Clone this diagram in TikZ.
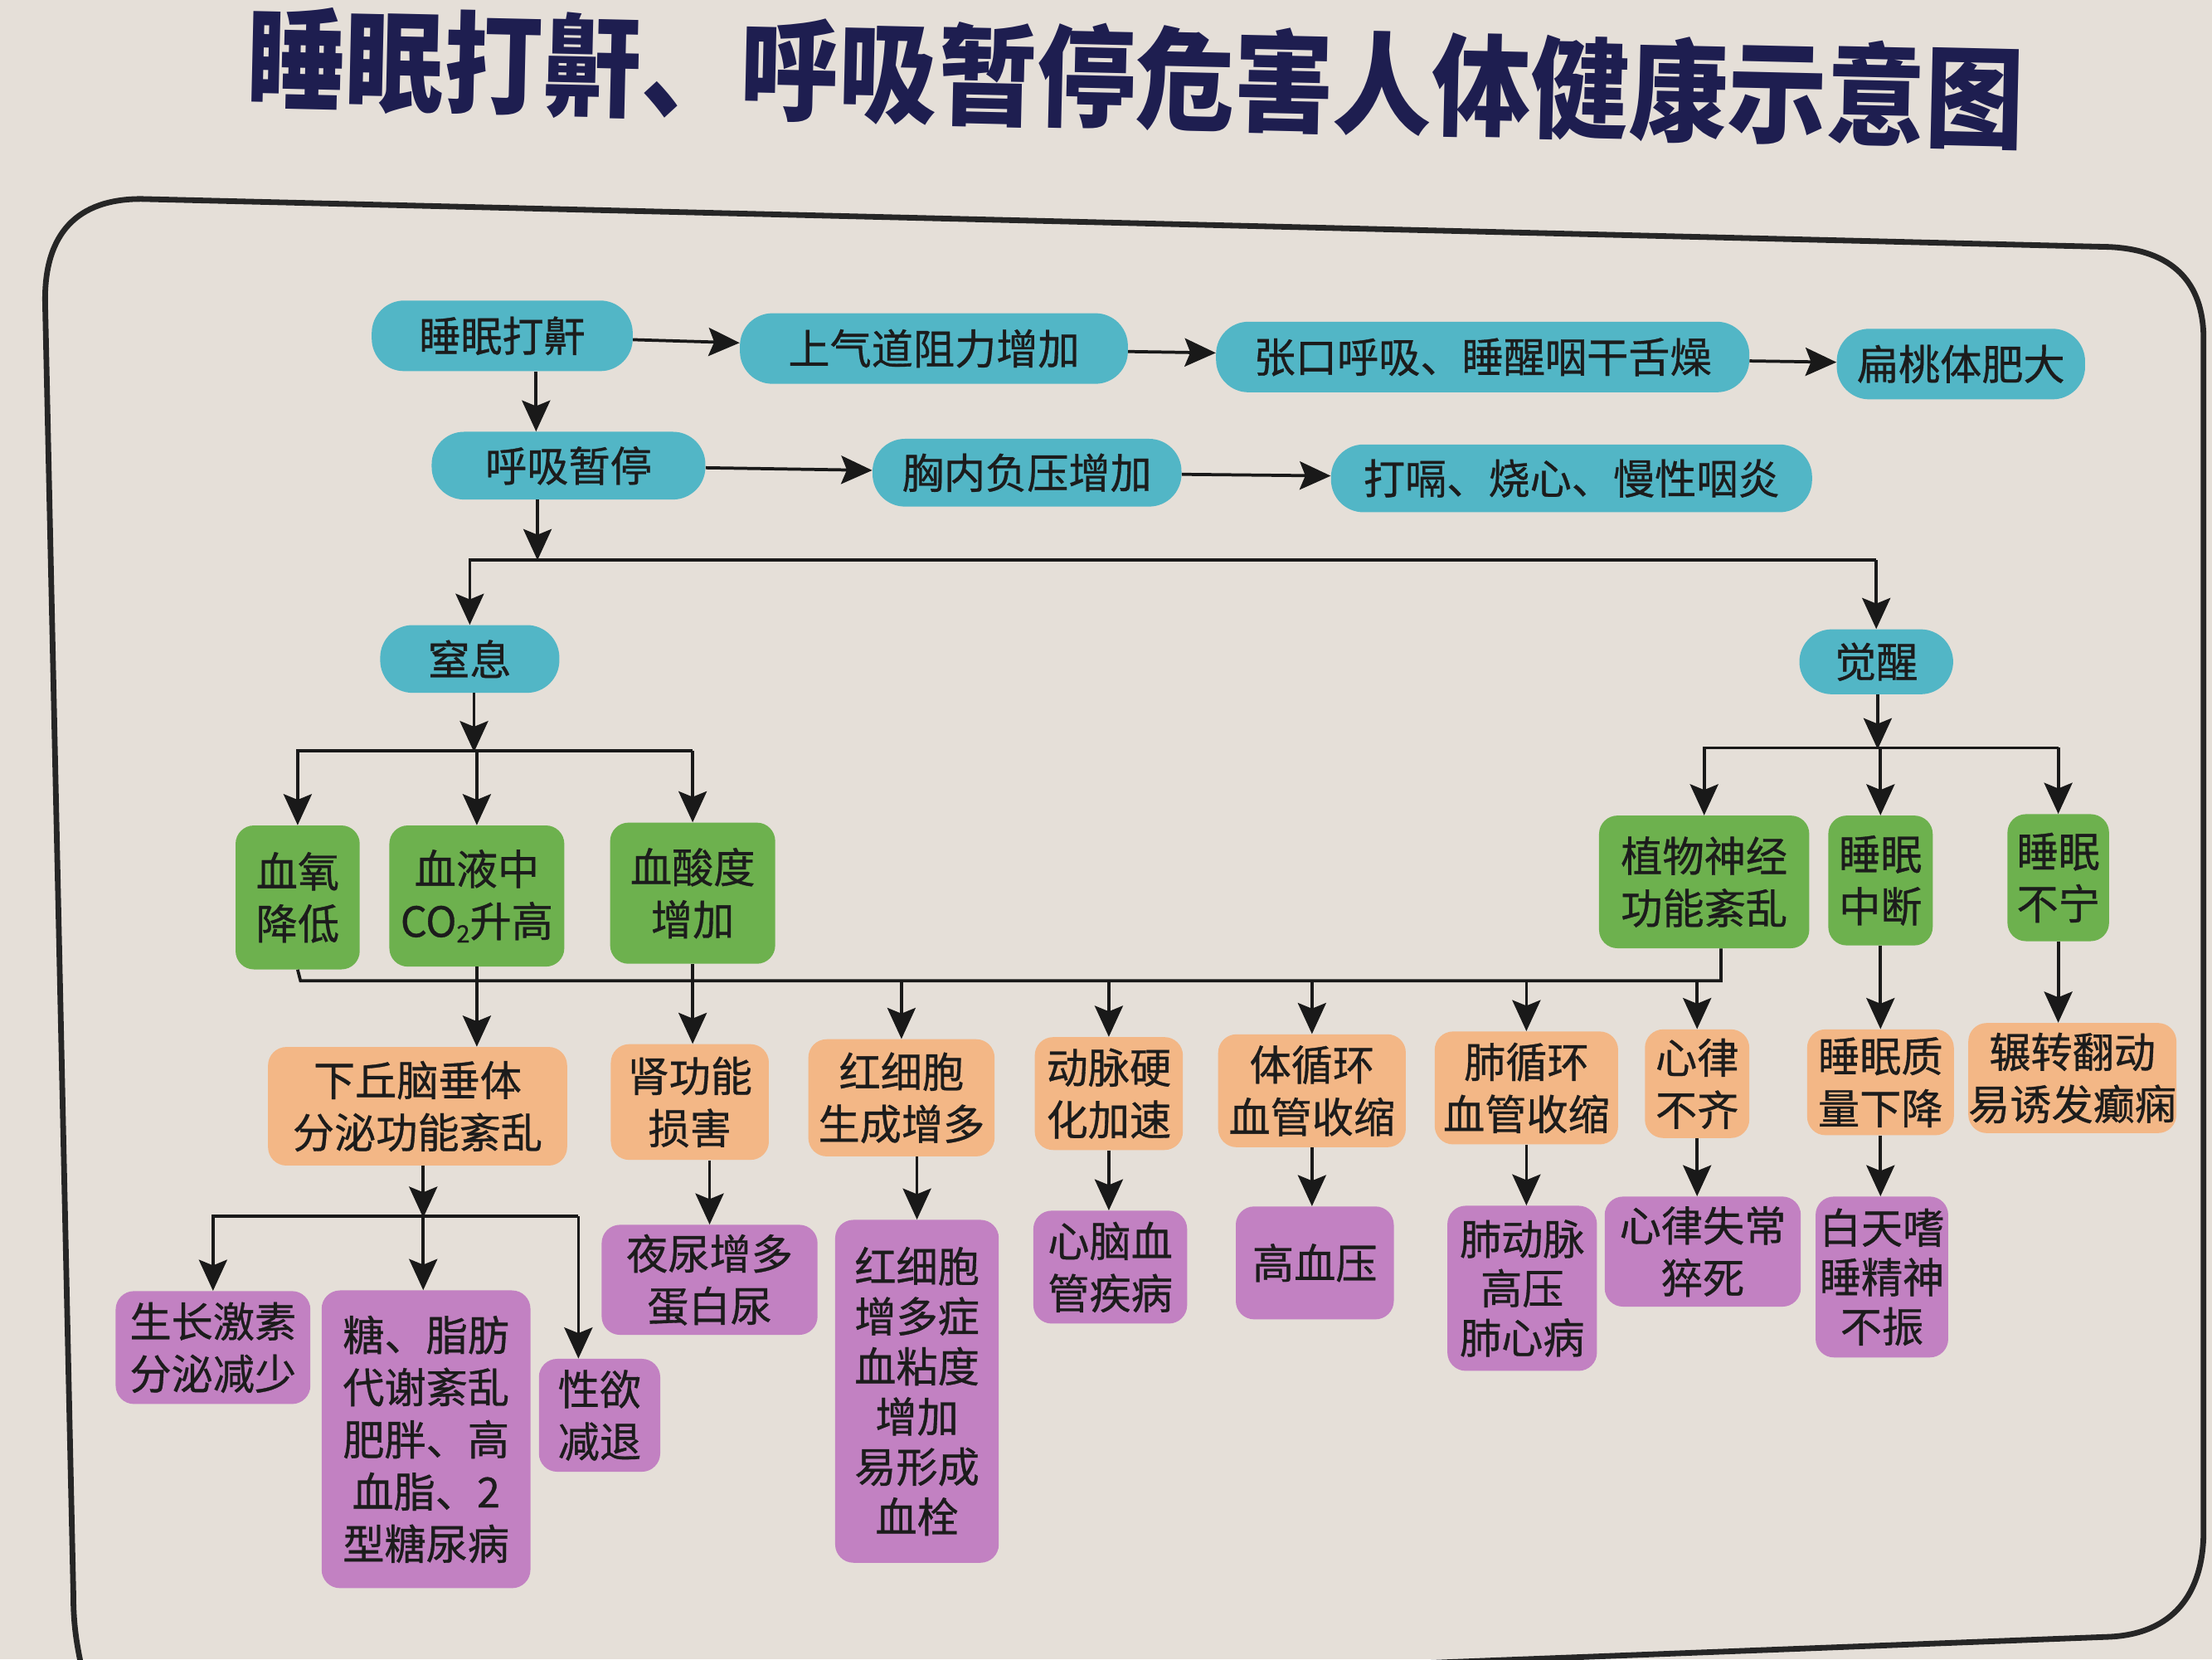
\documentclass[tikz,border=0pt]{standalone}
\usepackage{fontspec}
\setmainfont{Noto Sans CJK SC}
\newfontfamily\boxfont{Noto Sans CJK SC}[FakeBold=0.7]
\usetikzlibrary{arrows.meta,calc}
\definecolor{bgc}{HTML}{E5DFD8}
\definecolor{tealc}{HTML}{52B6C6}
\definecolor{greenc}{HTML}{6DB14E}
\definecolor{orangec}{HTML}{F3B786}
\definecolor{purplec}{HTML}{C281C2}
\definecolor{titlec}{HTML}{1E1E50}
\definecolor{txt}{HTML}{1C1C1C}
\tikzset{
  box/.style={inner sep=0pt, align=center, text=txt,
    font=\boxfont\fontsize{29.5}{37}\selectfont},
  tealbox/.style={box, fill=tealc, rounded corners=23pt},
  greenbox/.style={box, fill=greenc, rounded corners=13pt},
  orangebox/.style={box, fill=orangec, rounded corners=13pt},
  purplebox/.style={box, fill=purplec, rounded corners=13pt},
  arr/.style={line width=2.2pt, draw=black!90,
    -{Stealth[length=22pt,width=20pt,inset=4pt]}},
  conn/.style={line width=2.2pt, draw=black!90},
}
\begin{document}
\begin{tikzpicture}[x=1pt,y=-1pt]
\fill[bgc] (0,0) rectangle (1568,1176);
\useasboundingbox (0,0) rectangle (1568,1176);
% title
\node[font=\fontsize{70}{70}\selectfont\bfseries, text=titlec, rotate=-1.3, yscale=1.12]
  (title) at (805,55) {睡眠打鼾、呼吸暂停危害人体健康示意图};
% frame
\draw[line width=4pt, black!85]
  (62,1200) .. controls (55,1170) and (52,1155) .. (52,1130)
  -- (32,215) .. controls (31,165) and (55,141) .. (100,141)
  -- (1495,175) .. controls (1540,177) and (1562,200) .. (1562,240)
  -- (1562,1085) .. controls (1562,1130) and (1540,1158) .. (1495,1160)
  -- (60,1215);

% row 1
\node[tealbox, minimum width=185pt, minimum height=50pt] (snore) at (356,238) {睡眠打鼾};
\node[tealbox, minimum width=275pt, minimum height=50pt] (upper) at (662,247) {上气道阻力增加};
\node[tealbox, minimum width=378pt, minimum height=50pt] (mouth) at (1051,253) {张口呼吸、睡醒咽干舌燥};
\node[tealbox, minimum width=176pt, minimum height=50pt] (tonsil) at (1390,258) {扁桃体肥大};
% row 2
\node[tealbox, minimum width=194pt, minimum height=48pt] (apnea) at (403,330) {呼吸暂停};
\node[tealbox, minimum width=219pt, minimum height=48pt] (chest) at (728,335) {胸内负压增加};
\node[tealbox, minimum width=341pt, minimum height=48pt] (hic) at (1114,339) {打嗝、烧心、慢性咽炎};
% row 3
\node[tealbox, minimum width=127pt, minimum height=48pt] (choke) at (333,467) {窒息};
\node[tealbox, minimum width=109pt, minimum height=46pt] (wake) at (1330,469) {觉醒};
% row 4
\node[greenbox, minimum width=88pt, minimum height=102pt] (o2) at (211,636) {血氧\\降低};
\node[greenbox, minimum width=124pt, minimum height=100pt] (co2) at (338,635) {血液中\\CO\raisebox{-4pt}{\fontsize{17}{17}\selectfont 2}升高};
\node[greenbox, minimum width=117pt, minimum height=100pt] (acid) at (491,633) {血酸度\\增加};
\node[greenbox, minimum width=149pt, minimum height=94pt] (veg) at (1208,625) {植物神经\\功能紊乱};
\node[greenbox, minimum width=74pt, minimum height=92pt] (intr) at (1333,624) {睡眠\\中断};
\node[greenbox, minimum width=72pt, minimum height=90pt] (rest) at (1459,622) {睡眠\\不宁};
% row 5
\node[orangebox, minimum width=212pt, minimum height=84pt] (hypo) at (296,784) {下丘脑垂体\\分泌功能紊乱};
\node[orangebox, minimum width=112pt, minimum height=82pt] (kid) at (489,781) {肾功能\\损害};
\node[orangebox, minimum width=132pt, minimum height=83pt] (rbc) at (639,778) {红细胞\\生成增多};
\node[orangebox, minimum width=105pt, minimum height=80pt] (art) at (786,775) {动脉硬\\化加速};
\node[orangebox, minimum width=133pt, minimum height=80pt] (sys) at (930,773) {体循环\\血管收缩};
\node[orangebox, minimum width=130pt, minimum height=80pt] (pul) at (1082,771) {肺循环\\血管收缩};
\node[orangebox, minimum width=74pt, minimum height=77pt] (arh) at (1203,768) {心律\\不齐};
\node[orangebox, minimum width=104pt, minimum height=75pt] (sq) at (1333,767) {睡眠质\\量下降};
\node[orangebox, minimum width=147pt, minimum height=78pt] (epi) at (1469,764) {辗转翻动\\易诱发癫痫};
% row 6
\node[purplebox, minimum width=138pt, minimum height=80pt] (gh) at (151,955) {生长激素\\分泌减少};
\node[purplebox, minimum width=148pt, minimum height=211pt] (meta) at (302,1020) {糖、脂肪\\代谢紊乱\\肥胖、高\\血脂、2\\型糖尿病};
\node[purplebox, minimum width=86pt, minimum height=80pt] (lib) at (425,1003) {性欲\\减退};
\node[purplebox, minimum width=153pt, minimum height=78pt] (noct) at (503,907) {夜尿增多\\蛋白尿};
\node[purplebox, minimum width=116pt, minimum height=243pt, font=\boxfont\fontsize{29.5}{35.5}\selectfont] (poly) at (650,986) {红细胞\\增多症\\血粘度\\增加\\易形成\\血栓};
\node[purplebox, minimum width=109pt, minimum height=80pt] (cvd) at (787,898) {心脑血\\管疾病};
\node[purplebox, minimum width=112pt, minimum height=80pt] (hbp) at (932,895) {高血压};
\node[purplebox, minimum width=106pt, minimum height=117pt, font=\boxfont\fontsize{29.5}{35}\selectfont] (pah) at (1079,913) {肺动脉\\高压\\肺心病};
\node[purplebox, minimum width=139pt, minimum height=78pt] (sud) at (1207,887) {心律失常\\猝死};
\node[purplebox, minimum width=94pt, minimum height=114pt, font=\boxfont\fontsize{29.5}{35}\selectfont] (day) at (1334,905) {白天嗜\\睡精神\\不振};

% junction coordinates
\coordinate (c1) at (380,0);
\coordinate (c2) at (381,397);
\coordinate (c3) at (336,532);
\coordinate (c4) at (1331,530);
\coordinate (c5) at (213,695);
\coordinate (c5r) at (1220,695);
\coordinate (c6) at (300,862);
\coordinate (c6r) at (410,862);

% connectors rows 1-2
\draw[arr] (snore) -- (upper);
\draw[arr] (upper) -- (mouth);
\draw[arr] (mouth) -- (tonsil);
\draw[arr] (snore.south -| c1) -- (apnea.north -| c1);
\draw[arr] (apnea) -- (chest);
\draw[arr] (chest) -- (hic);
% apnea split
\draw[arr] (apnea.south -| c2) -- (c2);
\draw[arr] (wake.north |- c2) -- (choke.north |- c2) -- (choke.north);
\draw[arr] (wake.north |- c2) -- (wake.north);
% choke split
\draw[arr] (choke.south -| c3) -- ([yshift=-1pt]c3);
\draw[arr] (acid.north |- c3) -- (o2.north |- c3) -- (o2.north);
\draw[arr] (co2.north |- c3) -- (co2.north);
\draw[arr] (acid.north |- c3) -- (acid.north);
% wake split
\draw[arr] (wake.south -| c4) -- ([yshift=-1pt]c4);
\draw[arr] (rest.north |- c4) -- (veg.north |- c4) -- (veg.north);
\draw[arr] (intr.north |- c4) -- (intr.north);
\draw[arr] (rest.north |- c4) -- (rest.north);
% bus
\draw[conn] (o2.south) -- (c5) -- (c5r) -- (c5r |- veg.south);
\draw[arr] (co2.south) -- (co2.south |- hypo.north);
\draw[arr] (acid.south) -- (acid.south |- kid.north);
\draw[arr] (rbc.north |- c5) -- (rbc.north);
\draw[arr] (art.north |- c5) -- (art.north);
\draw[arr] (sys.north |- c5) -- (sys.north);
\draw[arr] (pul.north |- c5) -- (pul.north);
\draw[arr] (arh.north |- c5) -- (arh.north);
\draw[arr] (intr.south) -- (intr.south |- sq.north);
\draw[arr] (rest.south) -- (rest.south |- epi.north);
% row 5 -> row 6
\draw[arr] (hypo.south -| c6) -- ([yshift=-1pt]c6);
\draw[arr] (c6r) -- (gh.north |- c6) -- (gh.north);
\draw[arr] (c6) -- (c6 |- meta.north);
\draw[arr] (c6r) -- (c6r |- lib.north);
\draw[arr] (kid.south -| noct.north) -- (noct.north);
\draw[arr] (rbc.south -| poly.north) -- (poly.north);
\draw[arr] (art.south) -- (art.south |- cvd.north);
\draw[arr] (sys.south) -- (sys.south |- hbp.north);
\draw[arr] (pul.south) -- (pul.south |- pah.north);
\draw[arr] (arh.south) -- (arh.south |- sud.north);
\draw[arr] (sq.south) -- (sq.south |- day.north);
\end{tikzpicture}
\end{document}
